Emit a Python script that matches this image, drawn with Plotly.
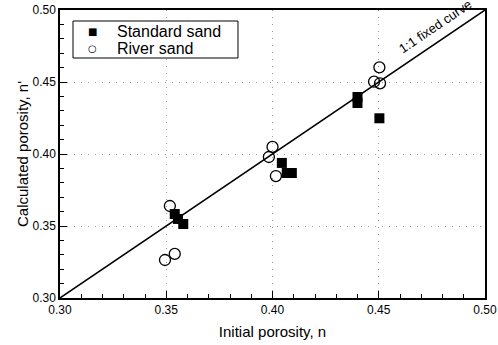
import plotly.graph_objects as go

# Standard sand (filled squares)
std_n = [0.354, 0.3555, 0.358, 0.4044, 0.4067, 0.4091, 0.440, 0.440, 0.4503]
std_nc = [0.3583, 0.3549, 0.3514, 0.3938, 0.3868, 0.3868, 0.4396, 0.4354, 0.4248]

# River sand (open circles)
riv_n = [0.3517, 0.3494, 0.354, 0.400, 0.3983, 0.4016, 0.4503, 0.4478, 0.4506]
riv_nc = [0.3639, 0.3264, 0.3306, 0.4049, 0.3979, 0.3847, 0.4602, 0.4502, 0.4491]

line_x = [0.30, 0.50]
line_y = [0.30, 0.50]

legend_names = ["Standard sand", "River sand"]
legend_symbols = ["■", "○"]

FONT = "Liberation Sans, Arial, sans-serif"
RANGE = [0.30, 0.50]

fig = go.Figure()
# 1:1 line lives on the overlay axes that carry the minor ticks
fig.add_trace(go.Scatter(x=line_x, y=line_y, mode="lines", xaxis="x2", yaxis="y2",
                         line=dict(color="black", width=1.5), showlegend=False))
fig.add_trace(go.Scatter(x=std_n, y=std_nc, mode="markers", name=legend_names[0],
                         showlegend=False,
                         marker=dict(symbol="square", size=10, color="black",
                                     line=dict(width=0))))
fig.add_trace(go.Scatter(x=riv_n, y=riv_nc, mode="markers", name=legend_names[1],
                         showlegend=False,
                         marker=dict(symbol="circle-open", size=11, color="black",
                                     line=dict(width=1.3, color="black"))))

axis_common = dict(
    range=RANGE,
    showline=True, linecolor="black", linewidth=1.5, mirror=True,
    tick0=0.30, dtick=0.05, tickformat=".2f",
    ticks="inside", ticklen=7, tickwidth=1.3, tickcolor="black",
    showgrid=True, gridcolor="#999999", griddash="1px,6px", gridwidth=1,
    zeroline=False, automargin=False, ticklabeloverflow="allow",
    tickfont=dict(family=FONT, size=12, color="black"),
)
minor_common = dict(
    range=RANGE, tick0=0.30, dtick=0.01,
    ticks="inside", ticklen=4, tickwidth=1.2, tickcolor="black",
    showticklabels=False, showgrid=False, showline=False, zeroline=False,
    automargin=False,
)

fig.update_layout(
    xaxis=dict(**axis_common,
               title=dict(text="Initial porosity, n",
                          font=dict(family=FONT, size=15, color="black"), standoff=10)),
    yaxis=dict(**axis_common,
               title=dict(text="Calculated porosity, n'",
                          font=dict(family=FONT, size=15, color="black"), standoff=0)),
    xaxis2=dict(**minor_common, overlaying="x", side="bottom", anchor="y2"),
    yaxis2=dict(**minor_common, overlaying="y", side="left", anchor="x2"),
)

fig.add_annotation(x=0.4765, y=0.4885, xref="x", yref="y", text="1:1 fixed curve",
                   showarrow=False, textangle=-34,
                   font=dict(family=FONT, size=13, color="black"))

# legend box drawn as a framed rectangle with symbol + label rows
fig.add_shape(type="rect", xref="paper", yref="paper",
              x0=0.0306, x1=0.4188, y0=0.8333, y1=0.9618,
              line=dict(color="black", width=1), fillcolor="white", layer="above")
row_y = [0.925, 0.866]
for sym, name, yy in zip(legend_symbols, legend_names, row_y):
    fig.add_annotation(x=0.0776, y=yy, xref="paper", yref="paper", text=sym,
                       showarrow=False, xanchor="center", yanchor="middle",
                       font=dict(family="DejaVu Sans", size=10, color="black"))
    fig.add_annotation(x=0.1294, y=yy, xref="paper", yref="paper", text=name,
                       showarrow=False, xanchor="left", yanchor="middle",
                       font=dict(family=FONT, size=16, color="black"))

fig.update_layout(
    width=498, height=345,
    margin=dict(l=60, r=13, t=10, b=47),
    plot_bgcolor="white", paper_bgcolor="white",
    font=dict(family=FONT, color="black"),
    showlegend=False,
)

# remove the browser's default 8px body margin so the figure fills the window exactly
fig.write_html("out.html", config={"displayModeBar": False},
               post_script="document.body.style.margin='0px';document.body.style.overflow='hidden';")
